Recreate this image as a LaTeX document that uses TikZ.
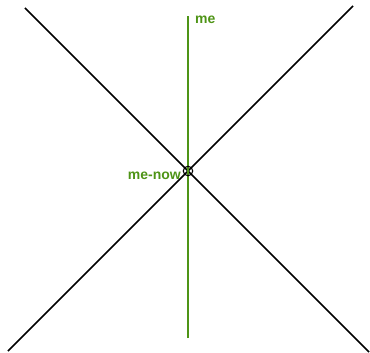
\documentclass[tikz,border=0pt]{standalone}
\usepackage{fontspec}
\setsansfont{Liberation Sans}
\usepackage{xcolor}
\usetikzlibrary{positioning}
\definecolor{megreen}{RGB}{78,148,22}

\begin{document}
\begin{tikzpicture}[
  x=1pt,y=-1pt,
  cone/.style={draw=black,line width=1.6pt},
  worldline/.style={draw=megreen,line width=1.8pt},
  tag/.style={text=megreen,font=\sffamily\bfseries\fontsize{14}{16}\selectfont,inner sep=0pt},
  event/.style={circle,draw=black,line width=1.1pt,minimum size=9.5pt,inner sep=0pt}
]
\useasboundingbox (0,0) rectangle (370,353);
\coordinate (now) at (188,171);
\coordinate (tl) at (25,8);
\coordinate (br) at (369,352);
\coordinate (tr) at (353,6);
\coordinate (bl) at (8,351);
\coordinate (top) at (188,16);
\coordinate (bot) at (188,338);
\draw[cone] (tl) -- (br);
\draw[cone] (tr) -- (bl);
\draw[worldline] (bot) -- (top);
\node[event] (ev) at (now) {};
\node[tag,anchor=west] (me) at (195,20) {me};
\node[tag,anchor=east] (menow) at (181,176) {me-now};
\end{tikzpicture}
\end{document}
